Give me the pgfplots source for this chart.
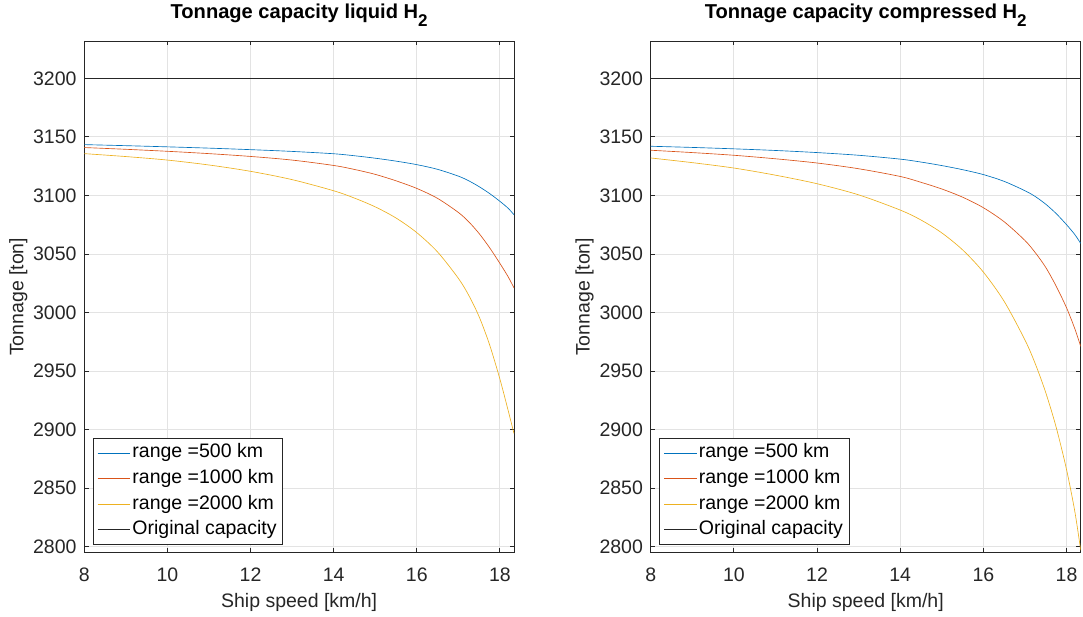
\documentclass[border=0pt]{standalone}
\usepackage{fontspec}
\setmainfont{Liberation Sans}
\usepackage{pgfplots}
\pgfplotsset{compat=1.18}
\definecolor{mblue}{rgb}{0,0.447,0.741}
\definecolor{mred}{rgb}{0.85,0.325,0.098}
\definecolor{myellow}{rgb}{0.929,0.694,0.125}
\definecolor{axgray}{rgb}{0.15,0.15,0.15}
\definecolor{gridgray}{rgb}{0.89,0.89,0.89}
\newcommand{\fs}{\fontsize{19.5}{19.5}\selectfont}
\pgfplotsset{
  mystyle/.style={
    scale only axis, width=429.7pt, height=511.7pt,
    xmin=8, xmax=18.34, ymin=2794.9, ymax=3231.9,
    xtick={8,10,...,18}, ytick={2800,2850,...,3200},
    grid=major, major grid style={gridgray, line width=0.8pt},
    tick align=inside, major tick length=4.5pt,
    every tick/.style={axgray, line width=0.8pt},
    axis line style={axgray, line width=0.8pt},
    /pgf/number format/assume math mode=true,
    /pgf/number format/1000 sep={},
    tick label style={font=\fs, text=axgray},
    xticklabel style={anchor=base, yshift=-29.3pt, inner sep=0pt},
    yticklabel style={anchor=east, xshift=-7.6pt, inner sep=0pt},
    xlabel style={at={(axis description cs:0.5,0)}, anchor=base, yshift=-55.3pt, font=\fs, text=axgray},
    ylabel style={at={(axis description cs:-0.1536,0.5)}, anchor=center, font=\fs, text=axgray},
    title style={at={(axis description cs:0.5,1)}, anchor=base, yshift=16pt, font=\fontsize{20.1}{20.1}\selectfont\bfseries, inner sep=0pt},
    xlabel={Ship speed [km/h]}, ylabel={Tonnage [ton]},
    legend cell align=left,
    legend image code/.code={\draw[#1] (0pt,0pt) -- (32.5pt,0pt);},
    legend style={at={(0,0)}, anchor=south west, xshift=8.7pt, yshift=8.4pt,
      draw=axgray, line width=0.6pt, font=\fs, text=black,
      inner xsep=4pt, inner ysep=1.5pt, row sep=0pt,
      nodes={text height=14pt, text depth=4pt, inner ysep=3.8pt, inner xsep=2pt}},
  },
  every axis plot/.append style={line width=0.65pt, smooth, tension=0.5},
}
\begin{document}
\begin{tikzpicture}
\useasboundingbox (0,0) rectangle (1083pt,617pt);
\begin{axis}[mystyle, at={(84.3pt,64.3pt)}, anchor=south west,
  title={Tonnage capacity liquid H\raisebox{-8pt}{\fontsize{17}{17}\selectfont 2}}]
\addplot[mblue] coordinates {(8,3143.4) (9,3142.5) (10,3141.5) (11,3140.4) (12,3139.1) (13,3137.6) (14,3135.6) (14.5,3133.9) (15,3131.8) (15.5,3129.3) (16,3126.3) (16.5,3122.3) (17,3116.5) (17.25,3112.5) (17.5,3107.5) (17.75,3101.7) (18,3095.0) (18.2,3089.0) (18.34,3083.5)};
\addlegendentry{range =500 km}
\addplot[mred] coordinates {(8,3140.9) (9,3139.4) (10,3137.7) (11,3135.7) (12,3133.3) (13,3130.2) (14,3125.6) (14.5,3122.2) (15,3118.0) (15.5,3112.5) (16,3106.0) (16.5,3097.5) (17,3085.5) (17.25,3077.5) (17.5,3067.5) (17.75,3055.5) (18,3042) (18.2,3030.5) (18.34,3021)};
\addlegendentry{range =1000 km}
\addplot[myellow] coordinates {(8,3135.7) (9,3133.2) (10,3130.2) (11,3126.0) (12,3120.6) (13,3113.5) (14,3104.0) (14.5,3097.75) (15,3090.25) (15.5,3080.75) (16,3068.25) (16.5,3051.75) (17,3029.25) (17.25,3014.75) (17.5,2996.5) (17.75,2972.75) (18,2943.25) (18.2,2916.25) (18.34,2896.6)};
\addlegendentry{range =2000 km}
\addplot[black!85] coordinates {(8,3200) (18.34,3200)};
\addlegendentry{Original capacity}
\end{axis}
\begin{axis}[mystyle, at={(650.7pt,64.3pt)}, anchor=south west, width=430pt,
  title={Tonnage capacity compressed H\raisebox{-8pt}{\fontsize{17}{17}\selectfont 2}}]
\addplot[mblue] coordinates {(8,3142) (9,3141) (10,3139.8) (11,3138.4) (12,3136.6) (13,3134.3) (14,3131.0) (14.5,3128.5) (15,3125.5) (15.5,3122.0) (16,3117.8) (16.5,3112.0) (17,3104.0) (17.25,3099.0) (17.5,3092.5) (17.75,3084.5) (18,3075) (18.2,3066.5) (18.34,3059)};
\addlegendentry{range =500 km}
\addplot[mred] coordinates {(8,3138.6) (9,3136.6) (10,3134.3) (11,3131.3) (12,3127.7) (13,3122.8) (14,3116.2) (14.5,3111.2) (15,3105.5) (15.5,3098.5) (16,3089.5) (16.5,3077.5) (17,3061.5) (17.25,3051) (17.5,3038.5) (17.75,3022.5) (18,3004) (18.2,2986) (18.34,2971)};
\addlegendentry{range =1000 km}
\addplot[myellow] coordinates {(8,3132) (9,3128) (10,3123.4) (11,3117.3) (12,3110) (13,3100.5) (14,3087.5) (14.5,3079) (15,3068) (15.5,3053.5) (16,3034.5) (16.5,3009.5) (17,2976.5) (17.25,2956) (17.5,2931.5) (17.75,2902) (18,2865.75) (18.2,2829.75) (18.34,2796.85)};
\addlegendentry{range =2000 km}
\addplot[black!85] coordinates {(8,3200) (18.34,3200)};
\addlegendentry{Original capacity}
\end{axis}
\end{tikzpicture}
\end{document}
